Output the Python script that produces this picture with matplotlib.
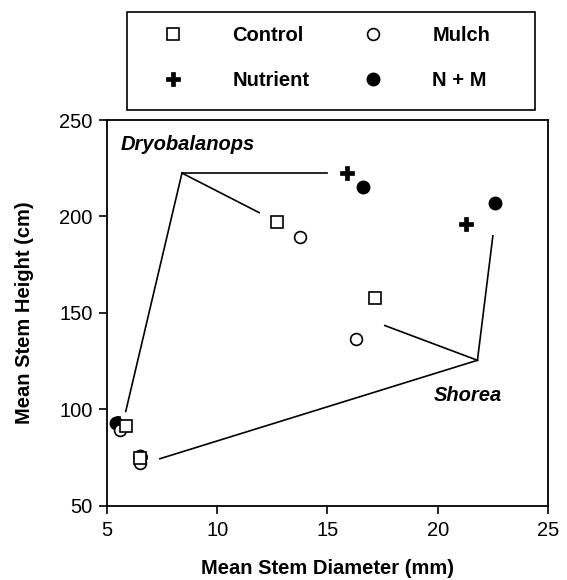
import matplotlib
matplotlib.use("Agg")
import matplotlib.pyplot as plt
from matplotlib.lines import Line2D
from matplotlib.patches import Rectangle

plt.rcParams['font.family'] = ['Liberation Sans', 'DejaVu Sans']

# treatments: Control, Mulch, Nutrient, N + M
treatments = ["Control", "Mulch", "Nutrient", "N + M"]

# Dryobalanops, first and last census (diameter mm, height cm)
dryo_d0 = [5.85, 5.6, 5.5, 5.4]
dryo_h0 = [91.5, 89.5, 93, 93]
dryo_d1 = [12.7, 13.75, 15.9, 16.6]
dryo_h1 = [197, 189.5, 222.5, 215.5]

# Shorea
shor_d0 = [6.5, 6.5, 6.5, 6.5]
shor_h0 = [75, 72.5, 75.5, 76]
shor_d1 = [17.15, 16.3, 21.3, 22.6]
shor_h1 = [158, 136.5, 196, 207]

# leader lines for the species labels
dryo_vertex = (8.4, 222.5)
dryo_ends = [(5.85, 99), (15.0, 222.5), (11.9, 202)]
shor_vertex = (21.8, 125.5)
shor_ends = [(7.4, 74.5), (17.6, 143.5), (22.5, 190)]

styles = [
    dict(marker='s', mfc='white', mec='black', ms=8.5, mew=1.2),
    dict(marker='o', mfc='white', mec='black', ms=8.5, mew=1.2),
    dict(marker='P', mfc='black', mec='black', ms=9.5, mew=0.5),
    dict(marker='o', mfc='black', mec='black', ms=9, mew=1.0),
]
draw_order = [3, 2, 1, 0]

FS = 14.5

fig = plt.figure(figsize=(5.67, 5.80), dpi=100)
ax = fig.add_axes([0.1887, 0.1276, 0.7778, 0.6655])

# leader lines
for vert, ends in [(dryo_vertex, dryo_ends), (shor_vertex, shor_ends)]:
    for e in ends:
        ax.plot([vert[0], e[0]], [vert[1], e[1]], color='black', lw=1.2, zorder=1)

for z, i in enumerate(draw_order):
    ax.plot([dryo_d0[i], dryo_d1[i], shor_d0[i], shor_d1[i]],
            [dryo_h0[i], dryo_h1[i], shor_h0[i], shor_h1[i]],
            linestyle='none', zorder=3 + z, **styles[i])

ax.text(5.6, 237.5, "Dryobalanops", fontsize=FS, fontweight='bold',
        fontstyle='italic', va='center', ha='left')
ax.text(19.8, 107.5, "Shorea", fontsize=FS, fontweight='bold',
        fontstyle='italic', va='center', ha='left')

ax.set_xlim(5, 25)
ax.set_ylim(50, 250)
ax.set_xticks([5, 10, 15, 20, 25])
ax.set_yticks([50, 100, 150, 200, 250])
for s in ax.spines.values():
    s.set_linewidth(1.3)
ax.tick_params(direction='out', length=5.5, width=1.2, labelsize=FS, pad=5,
               top=False, right=False)
ax.set_xlabel("Mean Stem Diameter (mm)", fontsize=FS, fontweight='bold', labelpad=14)
ax.set_ylabel("Mean Stem Height (cm)", fontsize=FS, fontweight='bold', labelpad=18)

# legend box
W, H = 567.0, 580.0
fig.patches.append(Rectangle((127 / W, 1 - 110 / H), (535 - 127) / W, (110 - 12) / H,
                             transform=fig.transFigure, fill=False,
                             edgecolor='black', lw=1.2))

handles = [Line2D([], [], linestyle='none', **st) for st in styles]
# column order: Control / Nutrient, Mulch / N + M
order = [0, 2, 1, 3]
leg = fig.legend([handles[k] for k in order], [treatments[k] for k in order],
                 ncol=2, loc='upper left', bbox_to_anchor=(158 / W, 1 - 26 / H),
                 frameon=False, prop=dict(weight='bold', size=FS),
                 handlelength=1.5, handletextpad=2.2, columnspacing=2.4,
                 labelspacing=1.3, borderpad=0, borderaxespad=0)

fig.savefig("out.png", dpi=100)
